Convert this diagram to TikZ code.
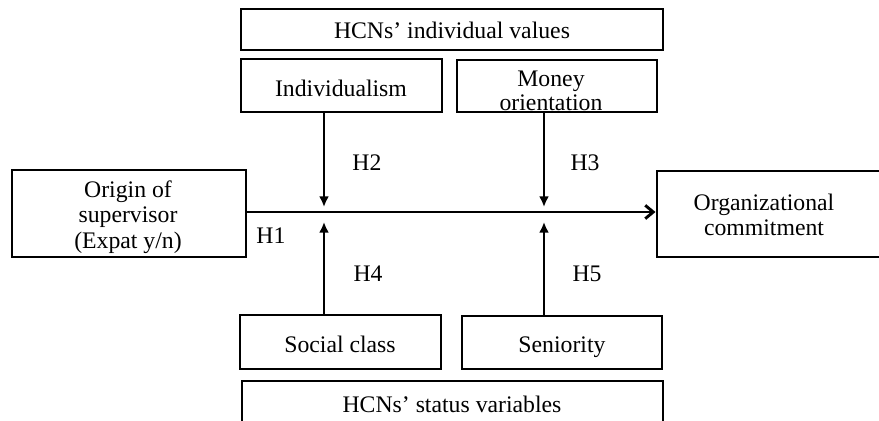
\documentclass[tikz,border=0pt]{standalone}
\usepackage{fontspec}
\setmainfont{Liberation Serif}
\usetikzlibrary{arrows.meta,fit}
\begin{document}
\begin{tikzpicture}[x=0.75pt,y=-0.75pt,
  box/.style={draw, line width=2.2pt, inner sep=0pt},
  txt/.style={inner sep=0pt, align=center, font=\fontsize{17.8}{18.5}\selectfont},
  modarrow/.style={line width=2.2pt, -{Latex[length=8pt,width=7.5pt]}},
  mainarrow/.style={line width=2.2pt, -{Straight Barb[length=6pt,width=10pt,line width=2.2pt]}}]
\path[use as bounding box] (0,0) rectangle (879,421);
\clip (0,0) rectangle (879,421);
% boxes
\node[box, fit={(241,9) (663,50)}] (top) {};
\node[box, fit={(241,59) (442,112)}] (indiv) {};
\node[box, fit={(457,60) (657,112)}] (money) {};
\node[box, fit={(240,315) (441,369)}] (social) {};
\node[box, fit={(462,316) (662,369)}] (senior) {};
\node[box, fit={(242,381) (663,432)}] (status) {};
\node[box, fit={(12,170) (246,257)}] (origin) {};
\node[box, fit={(657,171) (892,257)}] (org) {};
% texts
\node[txt, anchor=base] (ttop) at (452,38) {HCNs’ individual values};
\node[txt, anchor=base] (tindiv) at (341,96) {Individualism};
\node[txt] (tmoney) at (551,91) {Money\\orientation};
\node[txt, anchor=base] (tsocial) at (340,352) {Social class};
\node[txt, anchor=base] (tsenior) at (562,352) {Seniority};
\node[txt, anchor=base] (tstatus) at (452,412) {HCNs’ status variables};
\node[txt, font=\fontsize{17.8}{19}\selectfont] (torigin) at (128,217) {Origin of\\supervisor\\(Expat y/n)};
\node[txt] (torg) at (764,215) {Organizational\\commitment};
% hypothesis labels
\node[txt, anchor=base] (h1) at (271,243) {H1};
\node[txt, anchor=base] (h2) at (367,170) {H2};
\node[txt, anchor=base] (h3) at (585,170) {H3};
\node[txt, anchor=base] (h4) at (368,281) {H4};
\node[txt, anchor=base] (h5) at (587,281) {H5};
% connectors
\coordinate (h2tip) at (324,207);
\coordinate (h4tip) at (324,222);
\coordinate (h3tip) at (544,207);
\coordinate (h5tip) at (544,222);
\draw[mainarrow] (origin.east |- 0,212) -- (org.west |- 0,212);
\draw[modarrow] (indiv.south -| h2tip) -- (h2tip);
\draw[modarrow] (money.south -| h3tip) -- (h3tip);
\draw[modarrow] (social.north -| h4tip) -- (h4tip);
\draw[modarrow] (senior.north -| h5tip) -- (h5tip);
\end{tikzpicture}
\end{document}
